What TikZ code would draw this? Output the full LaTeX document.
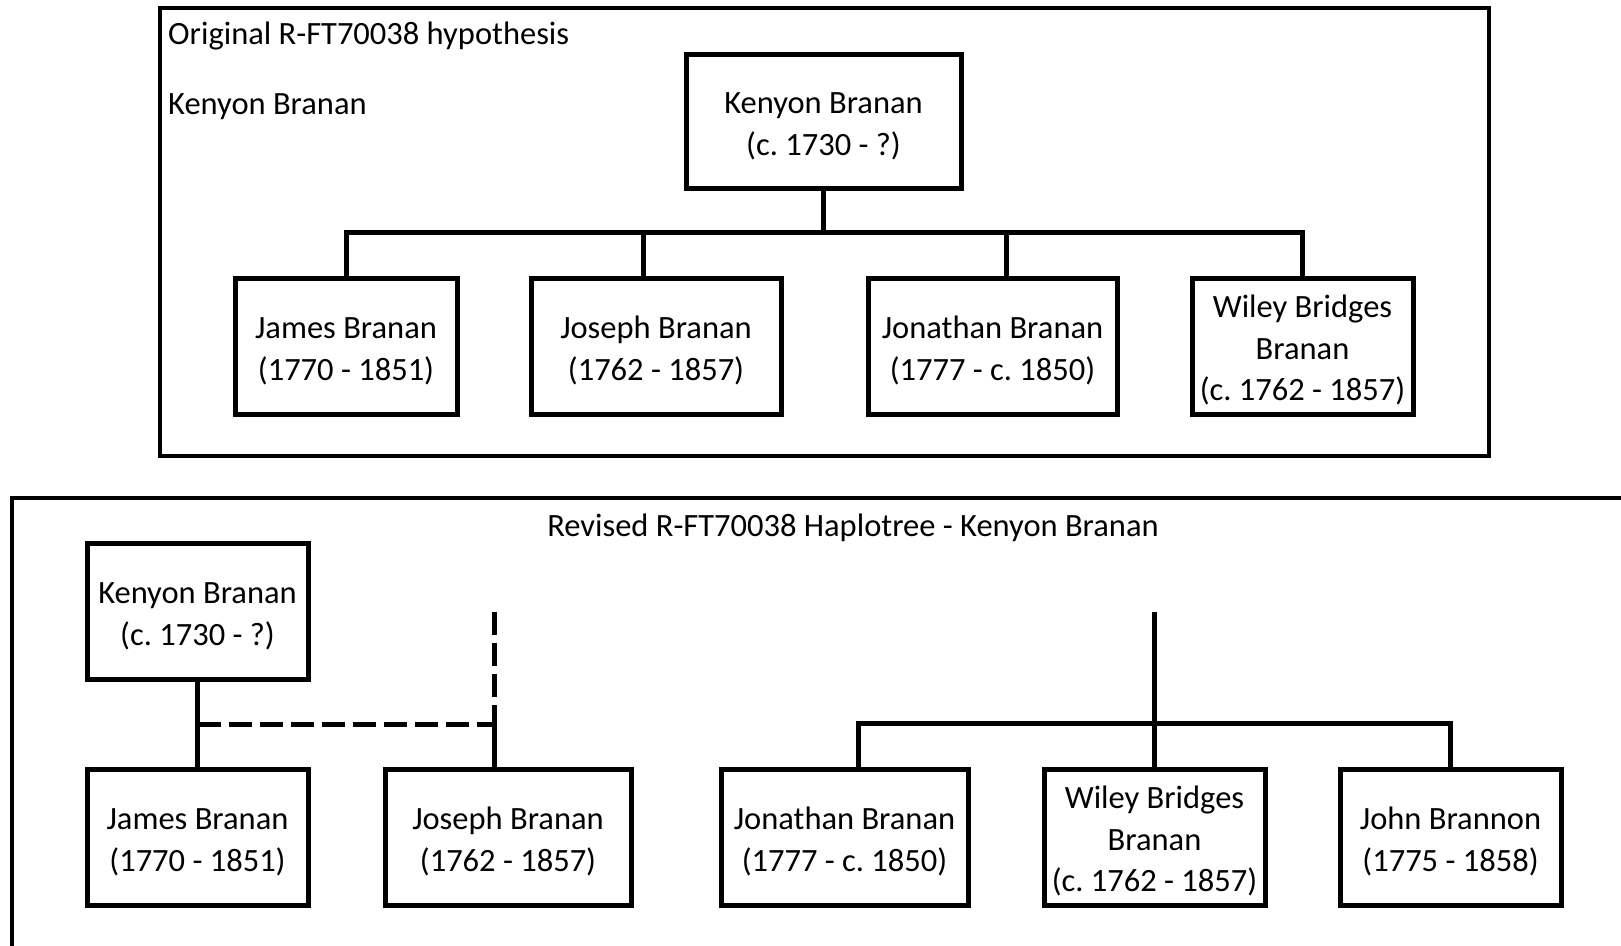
\documentclass[tikz,border=0pt]{standalone}
\usepackage{fontspec}
\setmainfont{Carlito}
\frenchspacing
\newcommand{\tsx}{\rule{0pt}{31pt}}
\begin{document}
\begin{tikzpicture}[x=1pt,y=-1pt,
  pbox/.style={draw,line width=5pt,inner sep=0pt,align=center,minimum height=136pt,
    font=\fontsize{32.5}{41.5}\selectfont\frenchspacing},
  lbl/.style={inner sep=0pt,font=\fontsize{32.5}{41.5}\selectfont\frenchspacing},
  conn/.style={line width=5pt},
  dconn/.style={line width=5pt,dash pattern=on 23pt off 8pt},
  frame/.style={line width=3.5pt}]
\useasboundingbox (0,0) rectangle (1621,945);
% ---------- top panel ----------
\draw[frame] (160,8) rectangle (1489,456);
\node[lbl,anchor=west] (t1) at (168,36.5) {Original R-FT70038 hypothesis};
\node[lbl,anchor=west] (t2) at (168,106.5) {Kenyon Branan};
\node[pbox,minimum width=275pt,minimum height=134pt] (k1) at (823.5,121) {\tsx Kenyon Branan\\(c. 1730 - ?)};
\node[pbox,minimum width=222pt] (ja1) at (346,346) {\tsx James Branan\\(1770 - 1851)};
\node[pbox,minimum width=250pt] (jo1) at (656,346) {\tsx Joseph Branan\\(1762 - 1857)};
\node[pbox,minimum width=249pt] (jn1) at (992.5,346) {\tsx Jonathan Branan\\(1777 - c. 1850)};
\node[pbox,minimum width=221pt] (wi1) at (1302.5,346) {\tsx Wiley Bridges\\Branan\\(c. 1762 - 1857)};
\coordinate (b1) at (823.5,232);
\coordinate (c1a) at (346,232);
\coordinate (c1b) at (643,232);
\coordinate (c1c) at (1006,232);
\coordinate (c1d) at (1302.5,232);
\draw[conn] (k1.south) -- (b1);
\draw[conn] (ja1.north) -- (c1a) -- (c1d) -- (wi1.north);
\draw[conn] (c1b) -- (c1b |- jo1.north);
\draw[conn] (c1c) -- (c1c |- jn1.north);
% ---------- bottom panel ----------
\draw[frame] (12,950) -- (12,498) -- (1630,498);
\node[lbl] (t3) at (853,527.5) {Revised R-FT70038 Haplotree - Kenyon Branan};
\node[pbox,minimum width=221pt] (k2) at (197.5,611) {\tsx Kenyon Branan\\(c. 1730 - ?)};
\node[pbox,minimum width=221pt] (ja2) at (197.5,837) {\tsx James Branan\\(1770 - 1851)};
\node[pbox,minimum width=246pt] (jo2) at (508,837) {\tsx Joseph Branan\\(1762 - 1857)};
\node[pbox,minimum width=247pt] (jn2) at (844.5,837) {\tsx Jonathan Branan\\(1777 - c. 1850)};
\node[pbox,minimum width=221pt] (wi2) at (1154.5,837) {\tsx Wiley Bridges\\Branan\\(c. 1762 - 1857)};
\node[pbox,minimum width=221pt] (jh2) at (1450.5,837) {\tsx John Brannon\\(1775 - 1858)};
\draw[conn] (k2.south) -- (ja2.north);
\coordinate (d1) at (197.5,724);
\coordinate (d2) at (494,724);
\coordinate (d3) at (494,612);
\draw[dconn] (d1) -- (d2);
\draw[dconn] (d3) -- (d2);
\draw[conn] (d2) -- (d2 |- jo2.north);
\coordinate (e1) at (1154.5,612);
\coordinate (e2) at (858,723);
\coordinate (e3) at (1450.5,723);
\draw[conn] (e1) -- (wi2.north);
\draw[conn] (jn2.north -| e2) -- (e2) -- (e3) -- (jh2.north);
\end{tikzpicture}
\end{document}
